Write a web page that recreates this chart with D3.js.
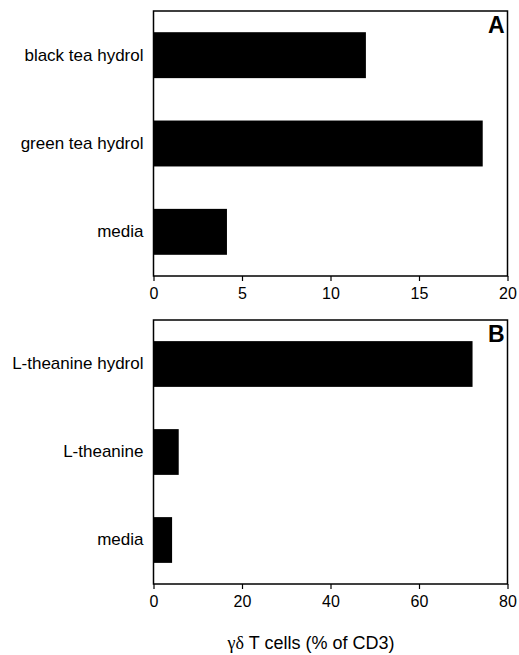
<!DOCTYPE html>
<html>
<head>
<meta charset="utf-8">
<script src="https://cdn.jsdelivr.net/npm/d3@7.9.0/dist/d3.min.js"></script>
<style>
  body { margin: 0; background: #fff; }
  text { font-family: "Liberation Sans", Arial, sans-serif; fill: #000; }
</style>
</head>
<body>
<svg id="chart" width="519" height="655"></svg>
<script>
// panel A
const catsA = ['black tea hydrol', 'green tea hydrol', 'media'];
const valsA = [12.0, 18.6, 4.15];
const ticksA = [0, 5, 10, 15, 20];

// panel B
const catsB = ['L-theanine hydrol', 'L-theanine', 'media'];
const valsB = [72.1, 5.7, 4.2];
const ticksB = [0, 20, 40, 60, 80];

const svg = d3.select('#chart');
const left = 153.5, right = 507.5;

function drawPanel(cats, vals, ticks, top, bottom, letter) {
  let g = svg.append('g');
  let x = d3.scaleLinear().domain([0, ticks[ticks.length - 1]]).range([left, right]);
  let y = d3.scaleBand().domain(cats).range([top, bottom])
    .paddingInner(0.48).paddingOuter(0.24);

  g.selectAll('rect.bar')
    .data(cats)
    .join('rect')
    .attr('class', 'bar')
    .attr('x', x(0))
    .attr('y', d => y(d))
    .attr('width', (d, i) => x(vals[i]) - x(0))
    .attr('height', y.bandwidth())
    .attr('fill', '#000');

  // frame
  g.append('rect')
    .attr('x', left).attr('y', top)
    .attr('width', right - left).attr('height', bottom - top)
    .attr('fill', 'none').attr('stroke', '#000').attr('stroke-width', 1.5);

  let xAxis = g.append('g')
    .attr('transform', `translate(0,${bottom})`)
    .call(d3.axisBottom(x).tickValues(ticks).tickSize(5).tickPadding(7));
  xAxis.select('.domain').remove();
  xAxis.selectAll('line').attr('stroke', '#000').attr('stroke-width', 1.2);
  xAxis.selectAll('text')
    .attr('font-size', 16)
    .attr('font-family', '"Liberation Sans", Arial, sans-serif')
    .attr('fill', '#000');

  let yAxis = g.append('g')
    .attr('transform', `translate(${left},0)`)
    .call(d3.axisLeft(y).tickSize(0).tickPadding(10));
  yAxis.select('.domain').remove();
  yAxis.selectAll('text')
    .attr('font-size', 17)
    .attr('font-family', '"Liberation Sans", Arial, sans-serif')
    .attr('fill', '#000');

  g.append('text')
    .attr('x', right - 3)
    .attr('y', top + 22)
    .attr('text-anchor', 'end')
    .attr('font-size', 23)
    .attr('font-weight', 'bold')
    .text(letter);
}

drawPanel(catsA, valsA, ticksA, 11, 276, 'A');
drawPanel(catsB, valsB, ticksB, 320, 584, 'B');

// axis title
const title = svg.append('text')
  .attr('x', 311)
  .attr('y', 649)
  .attr('text-anchor', 'middle')
  .attr('font-size', 18);
title.append('tspan')
  .attr('font-family', '"Liberation Serif", "DejaVu Serif", serif')
  .text('γδ');
title.append('tspan').text(' T cells (% of CD3)');
</script>
</body>
</html>
